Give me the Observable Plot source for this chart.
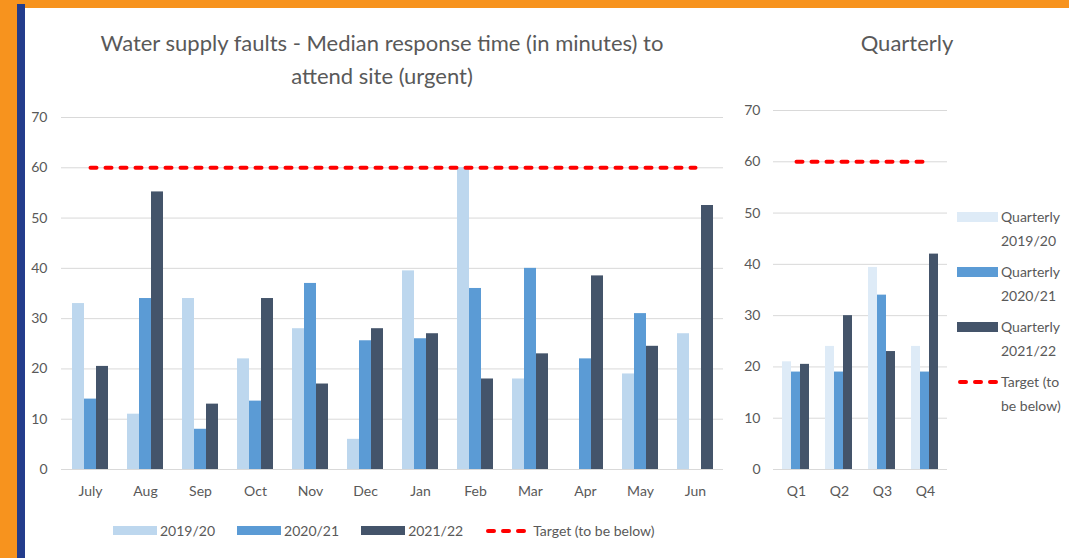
<!DOCTYPE html>
<html>
<head>
<meta charset="utf-8">
<script src="https://cdn.jsdelivr.net/npm/d3@7"></script>
<script src="https://cdn.jsdelivr.net/npm/@observablehq/plot@0.6"></script>
<style>
  html, body { margin: 0; padding: 0; background: #fff; }
  #page { position: relative; width: 1069px; height: 558px; overflow: hidden; background: #fff; font-family: Lato, "Open Sans", sans-serif; color: #595959; }
  .abs { position: absolute; }
  .layer { position: absolute; }
  .title { position: absolute; text-align: center; font-size: 22px; line-height: 33px; color: #595959; white-space: nowrap; }
  .legend-bottom { position: absolute; left: 113px; top: 522px; display: flex; align-items: center; gap: 22px; font-size: 14px; }
  .legend-bottom .item { display: flex; align-items: center; }
  .legend-right { position: absolute; left: 957px; top: 205px; font-size: 14px; line-height: 24px; }
  .legend-right .item { display: flex; align-items: flex-start; height: 55px; }
  .sw { display: inline-block; }
</style>
</head>
<body>
<div id="page">
  <div class="abs" style="left:0;top:0;width:1069px;height:8px;background:#f7931e"></div>
  <div class="abs" style="left:0;top:0;width:17px;height:558px;background:#f7931e"></div>
  <div class="abs" style="left:17px;top:4px;width:8px;height:554px;background:#233c8c"></div>
  <div class="title" style="left:82px;width:600px;top:26px">Water supply faults - Median response time (in minutes) to<br>attend site (urgent)</div>
  <div class="title" style="left:807px;width:200px;top:26px">Quarterly</div>
  <div id="main"></div>
  <div id="quarter"></div>
  <div class="legend-bottom" id="legB"></div>
  <div class="legend-right" id="legR"></div>
</div>
<script>
// ---------- data ----------
const months = ["July","Aug","Sep","Oct","Nov","Dec","Jan","Feb","Mar","Apr","May","Jun"];
const series = ["2019/20","2020/21","2021/22"];
const v2019_20 = [33, 11, 34, 22, 28, 6, 39.5, 60, 18, null, 19, 27];
const v2020_21 = [14, 34, 8, 13.6, 37, 25.6, 26, 36, 40, 22, 31, null];
const v2021_22 = [20.5, 55.2, 13, 34, 17, 28, 27, 18, 23, 38.5, 24.5, 52.5];
const target = 60;

const quarters = ["Q1","Q2","Q3","Q4"];
const qSeries = ["Quarterly 2019/20","Quarterly 2020/21","Quarterly 2021/22"];
const q2019_20 = [21, 24, 39.4, 24];
const q2020_21 = [19, 19, 34, 19];
const q2021_22 = [20.5, 30, 23, 42];

const yTicks = [0,10,20,30,40,50,60,70];
const targetLabel = "Target (to be below)";
const qTargetLabel = ["Target (to", "be below)"];

// ---------- styles ----------
const colors = ["#bdd7ee", "#5b9bd5", "#44546a"];
const qColors = ["#deebf7", "#5b9bd5", "#44546a"];
const FONT = "Lato, 'Open Sans', sans-serif";
const textColor = "#595959";
const gridColor = "#d9d9d9";

// ---------- tables ----------
const monthly = [];
[v2019_20, v2020_21, v2021_22].forEach((arr, si) =>
  arr.forEach((v, i) => { if (v != null) monthly.push({month: months[i], series: series[si], value: v}); }));
const quarterly = [];
[q2019_20, q2020_21, q2021_22].forEach((arr, si) =>
  arr.forEach((v, i) => { if (v != null) quarterly.push({q: quarters[i], series: qSeries[si], value: v}); }));

function layered(container, cfg) {
  const {left, top, width, height, margin, cats, catKey, data, ser, cols, padIn, padOut, tickPad} = cfg;
  const base = {
    width, height,
    marginTop: margin[0], marginRight: margin[1], marginBottom: margin[2], marginLeft: margin[3],
    style: {fontFamily: FONT, fontSize: "14px", color: textColor, background: "transparent", overflow: "visible"}
  };
  const yS = {domain: [0, 70]};
  // layer 1: grid + axes
  const p1 = Plot.plot({
    ...base,
    x: {domain: cats, paddingInner: padIn, paddingOuter: padOut, label: null},
    y: {...yS, label: null},
    marks: [
      Plot.gridY(yTicks, {stroke: gridColor, strokeOpacity: 1, strokeWidth: 1}),
      Plot.axisY(yTicks, {tickSize: 0, tickPadding: tickPad, label: null, fill: textColor}),
      Plot.axisX({tickSize: 0, tickPadding: 17, label: null, fill: textColor})
    ]
  });
  // layer 2: bars
  const p2 = Plot.plot({
    ...base,
    fx: {domain: cats, paddingInner: padIn, paddingOuter: padOut, axis: null, label: null},
    x: {domain: ser, padding: 0, axis: null},
    y: {...yS, axis: null},
    color: {domain: ser, range: cols},
    marks: [
      Plot.barY(data, {fx: catKey, x: "series", y: "value", fill: "series"})
    ]
  });
  // layer 3: target
  const p3 = Plot.plot({
    ...base,
    x: {domain: cats, paddingInner: padIn, paddingOuter: padOut, axis: null},
    y: {...yS, axis: null},
    marks: [
      Plot.lineY(cats.map(c => ({c, value: target})), {x: "c", y: "value", stroke: "#ff0000", strokeWidth: 4, strokeDasharray: "6,9", strokeLinecap: "round"})
    ]
  });
  [p1, p2, p3].forEach(p => {
    p.classList.add("layer");
    p.style.left = left + "px";
    p.style.top = top + "px";
    container.appendChild(p);
  });
}

layered(document.getElementById("main"), {
  left: 25, top: 100, width: 705, height: 410, margin: [17, 7, 41, 36],
  cats: months, catKey: "month", data: monthly, ser: series, cols: colors,
  padIn: 0.31, padOut: 0.155, tickPad: 14
});
layered(document.getElementById("quarter"), {
  left: 730, top: 100, width: 220, height: 410, margin: [10, 3, 41, 43],
  cats: quarters, catKey: "q", data: quarterly, ser: qSeries, cols: qColors,
  padIn: 0.33, padOut: 0.165, tickPad: 13
});

// ---------- legends ----------
const legB = document.getElementById("legB");
series.forEach((s, i) => {
  const it = document.createElement("div"); it.className = "item";
  it.innerHTML = `<span class="sw" style="width:44px;height:9px;background:${colors[i]};margin-right:3px"></span><span>${s}</span>`;
  legB.appendChild(it);
});
{
  const it = document.createElement("div"); it.className = "item";
  it.innerHTML = `<svg width="44" height="10" style="margin-right:4px"><line x1="3" x2="41" y1="5" y2="5" stroke="#ff0000" stroke-width="4" stroke-dasharray="6,9" stroke-linecap="round"/></svg><span>${targetLabel}</span>`;
  legB.appendChild(it);
}
const legR = document.getElementById("legR");
qSeries.forEach((s, i) => {
  const [a, b] = [s.split(" ")[0], s.split(" ")[1]];
  const it = document.createElement("div"); it.className = "item";
  it.innerHTML = `<span class="sw" style="width:41px;height:10px;background:${qColors[i]};margin-right:3px;margin-top:7px"></span><span>${a}<br>${b}</span>`;
  legR.appendChild(it);
});
{
  const it = document.createElement("div"); it.className = "item";
  it.innerHTML = `<svg width="41" height="10" style="margin-right:3px;margin-top:7px"><line x1="3" x2="39" y1="5" y2="5" stroke="#ff0000" stroke-width="4" stroke-dasharray="6,9" stroke-linecap="round"/></svg><span>${qTargetLabel[0]}<br>${qTargetLabel[1]}</span>`;
  legR.appendChild(it);
}
</script>
</body>
</html>
